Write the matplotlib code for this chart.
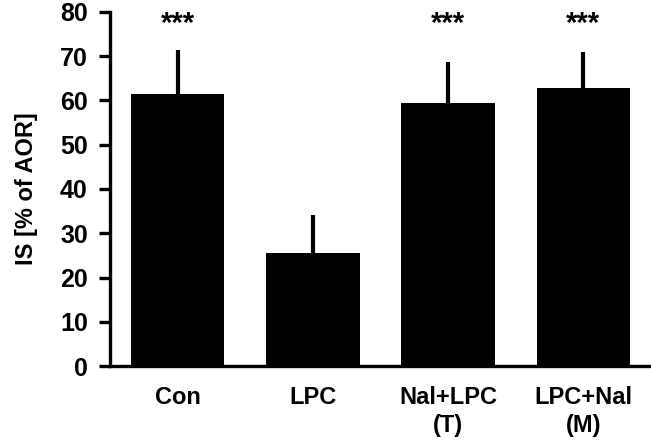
import matplotlib.pyplot as plt

groups = ['Con', 'LPC', 'Nal+LPC\n(T)', 'LPC+Nal\n(M)']
means = [61.5, 25.6, 59.5, 62.7]
errors = [10.0, 8.5, 9.2, 8.3]
stars = ['***', '', '***', '***']

plt.rcParams['font.family'] = ['Liberation Sans', 'DejaVu Sans']
plt.rcParams['font.weight'] = 'bold'

fig = plt.figure(figsize=(6.51, 4.40), dpi=100)
ax = fig.add_axes([0.169, 0.168, 0.831, 0.805])

x = range(len(groups))
ax.bar(x, means, width=0.69, color='black', zorder=2)
ax.errorbar(x, means, yerr=[[0] * len(means), errors], fmt='none',
            ecolor='black', elinewidth=3.0, capsize=0, zorder=1)

for i, s in enumerate(stars):
    if s:
        ax.text(i, 77.2, s, ha='center', va='center', fontsize=21, fontweight='bold')

ax.set_xlim(-0.5, 3.5)
ax.set_ylim(0, 80)
ax.set_yticks(range(0, 81, 10))
ax.set_xticks(list(x))
ax.set_xticklabels(groups, fontsize=17, fontweight='bold', linespacing=1.3)
ax.set_ylabel('IS [% of AOR]', fontsize=17, fontweight='bold', labelpad=16)

for side in ['top', 'right']:
    ax.spines[side].set_visible(False)
for side in ['left', 'bottom']:
    ax.spines[side].set_linewidth(2.4)
ax.tick_params(axis='y', length=8, width=2.4, labelsize=18, pad=8)
ax.tick_params(axis='x', length=0, pad=14)

plt.savefig('out.png', dpi=100)
